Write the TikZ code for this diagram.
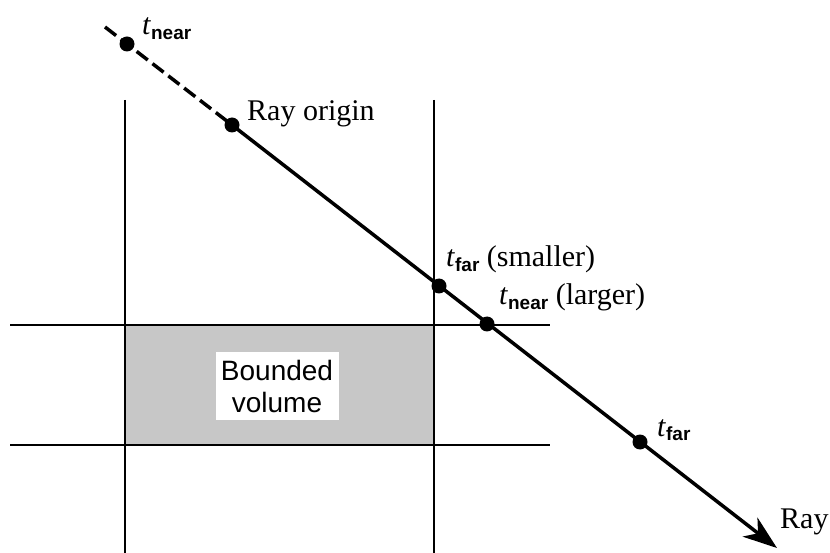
\documentclass[tikz,border=0pt]{standalone}
\usepackage{fontspec}
\setmainfont{Liberation Serif}
\newfontfamily\subfont{Liberation Sans}
\usetikzlibrary{arrows.meta}
\tikzset{
  gridline/.style={line width=2.2pt, black},
  rayline/.style={line width=3.5pt, black},
  dot/.style={circle, fill=black, inner sep=0pt, minimum size=15pt},
  lbl/.style={font=\fontsize{30}{32}\selectfont, inner sep=0pt, anchor=base west},
}
\newcommand{\tsub}[1]{\textit{t}\raisebox{-0.15em}{\fontsize{19}{20}\selectfont\subfont\bfseries #1}}
\begin{document}
\begin{tikzpicture}[x=1pt,y=-1pt]
\useasboundingbox (0,0) rectangle (830,553);
% bounded volume
\fill[black!22] (125,325) rectangle (434,445);
\node[fill=white, minimum width=123pt, minimum height=68pt, inner sep=2pt, align=center,
      font=\fontsize{28}{32}\selectfont\subfont] (bv) at (277,386) {Bounded\\volume};
% grid lines
\draw[gridline] (125,100) -- (125,553);
\draw[gridline] (434,100) -- (434,553);
\draw[gridline] (10,325) -- (550,325);
\draw[gridline] (10,445) -- (550,445);
% ray
\coordinate (s) at (105,27);
\coordinate (e) at (777,548);
\node[dot] (n1) at (127,44) {};
\node[dot] (orig) at (232,125) {};
\node[dot] (f1) at (439,286) {};
\node[dot] (n2) at (487,324) {};
\node[dot] (f2) at (640,442) {};
\draw[rayline, dash pattern=on 14pt off 6pt] (s) -- (orig.center);
\draw[rayline, -{Stealth[length=34pt,width=24pt,inset=10pt]}] (orig.center) -- (e);
% labels
\node[lbl] (l1) at (142,35) {\tsub{near}};
\node[lbl] (l2) at (247,121) {Ray origin};
\node[lbl] (l3) at (446,267) {\tsub{far} (smaller)};
\node[lbl] (l4) at (499,305) {\tsub{near} (larger)};
\node[lbl] (l5) at (657,436) {\tsub{far}};
\node[lbl] (l6) at (780,528) {Ray};
\end{tikzpicture}
\end{document}
